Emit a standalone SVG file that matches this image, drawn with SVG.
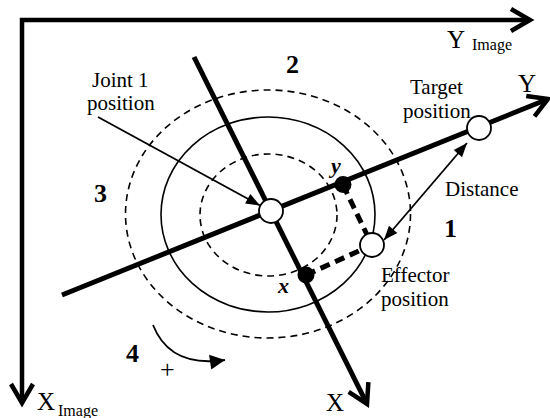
<svg xmlns="http://www.w3.org/2000/svg" width="550" height="418" viewBox="0 0 550 418">
<style>
.lbl{font-size:21px}
.num{font-size:26px;font-weight:bold}
.big{font-size:25px}
.sub{font-size:16px}
.it{font-size:22px;font-weight:bold;font-style:italic}
.axis{fill:none;stroke:#000;stroke-width:5}
.frame{fill:none;stroke:#000;stroke-width:4.5;stroke-linejoin:miter}
.dash{fill:none;stroke:#000;stroke-width:1.6;stroke-dasharray:7 5}
.ring{fill:none;stroke:#000;stroke-width:1.6}
.ptr{fill:none;stroke:#000;stroke-width:1.8}
.proj{fill:none;stroke:#000;stroke-width:5;stroke-dasharray:10 6}
.open{fill:#fff;stroke:#000;stroke-width:1.8}
.dot{fill:#000}
</style>
<defs>
<marker id="chev" markerUnits="userSpaceOnUse" viewBox="-24 -15 30 30" refX="0" refY="0" markerWidth="30" markerHeight="30" orient="auto" overflow="visible">
<path d="M-19,-11 L0,0 L-19,11" fill="none" stroke="#000" stroke-width="4.5" stroke-linejoin="miter"/>
</marker>
<marker id="chevS" markerUnits="userSpaceOnUse" viewBox="-24 -15 30 30" refX="0" refY="0" markerWidth="30" markerHeight="30" orient="auto-start-reverse" overflow="visible">
<path d="M-19,-11 L0,0 L-19,11" fill="none" stroke="#000" stroke-width="4.5" stroke-linejoin="miter"/>
</marker>
<marker id="tri" markerUnits="userSpaceOnUse" viewBox="-16 -8 17 16" refX="0" refY="0" markerWidth="17" markerHeight="16" orient="auto" overflow="visible">
<path d="M-14,-5.5 L0,0 L-14,5.5 Z" fill="#000"/>
</marker>
<marker id="triS" markerUnits="userSpaceOnUse" viewBox="-16 -8 17 16" refX="0" refY="0" markerWidth="17" markerHeight="16" orient="auto-start-reverse" overflow="visible">
<path d="M-14,-5.5 L0,0 L-14,5.5 Z" fill="#000"/>
</marker>
<marker id="triB" markerUnits="userSpaceOnUse" viewBox="-17 -9 18 18" refX="0" refY="0" markerWidth="18" markerHeight="18" orient="auto" overflow="visible">
<path d="M-15,-7.5 L0,0 L-15,7.5 Z" fill="#000"/>
</marker>
</defs>
<rect width="550" height="418" fill="#fff"/>

<g id="workspace-rings">
<ellipse class="dash" cx="268" cy="214" rx="142.5" ry="124"/>
<ellipse class="ring" cx="268" cy="214.5" rx="107" ry="97.5"/>
<ellipse class="dash" cx="268.5" cy="215" rx="68.5" ry="61"/>
</g>

<g id="connectors">
<path class="frame" d="M22,403 L22,20 L530,20" marker-start="url(#chevS)" marker-end="url(#chev)"/>
<path class="axis" d="M62,295 L548,99" marker-end="url(#chev)"/>
<path class="axis" d="M194,57 L367,404" marker-end="url(#chev)"/>
<path class="proj" d="M343,185 L372,245"/>
<path class="proj" d="M306,275 L372,245"/>
<path class="ptr" d="M98,117 L260,205.5" marker-end="url(#tri)"/>
<path class="ptr" d="M384,240 L467,143" marker-start="url(#triS)" marker-end="url(#tri)"/>
<path class="ptr" d="M153,325 Q170,368 225,360" marker-end="url(#triB)"/>
</g>

<g id="joint1"><circle class="open" cx="271" cy="211" r="12"/></g>
<g id="target"><circle class="open" cx="479" cy="128" r="12"/></g>
<g id="effector"><circle class="open" cx="372" cy="245" r="12"/></g>
<g id="y-proj"><circle class="dot" cx="343" cy="184.5" r="8.5"/></g>
<g id="x-proj"><circle class="dot" cx="306" cy="275" r="8.5"/></g>

<g id="labels" font-family="Liberation Serif, DejaVu Serif, serif" fill="#000">
<text class="lbl" x="92" y="87">Joint 1</text>
<text class="lbl" x="87" y="110">position</text>
<text class="lbl" x="410" y="94">Target</text>
<text class="lbl" x="403" y="118">position</text>
<text class="lbl" x="445" y="196">Distance</text>
<text class="lbl" x="381" y="282">Effector</text>
<text class="lbl" x="381" y="306">position</text>
<text class="num" x="286" y="73">2</text>
<text class="num" x="94" y="202">3</text>
<text class="num" x="444" y="237">1</text>
<text class="num" x="126" y="362">4</text>
<text x="160" y="378" font-size="26">+</text>
<text class="it" x="331" y="173">y</text>
<text class="it" x="278" y="293">x</text>
<text class="big" x="518" y="92">Y</text>
<text class="big" x="326" y="411">X</text>
<text class="big" x="447" y="48">Y</text>
<text class="sub" x="472" y="50">Image</text>
<text class="big" x="37" y="410">X</text>
<text class="sub" x="58" y="416">Image</text>
</g>
</svg>
